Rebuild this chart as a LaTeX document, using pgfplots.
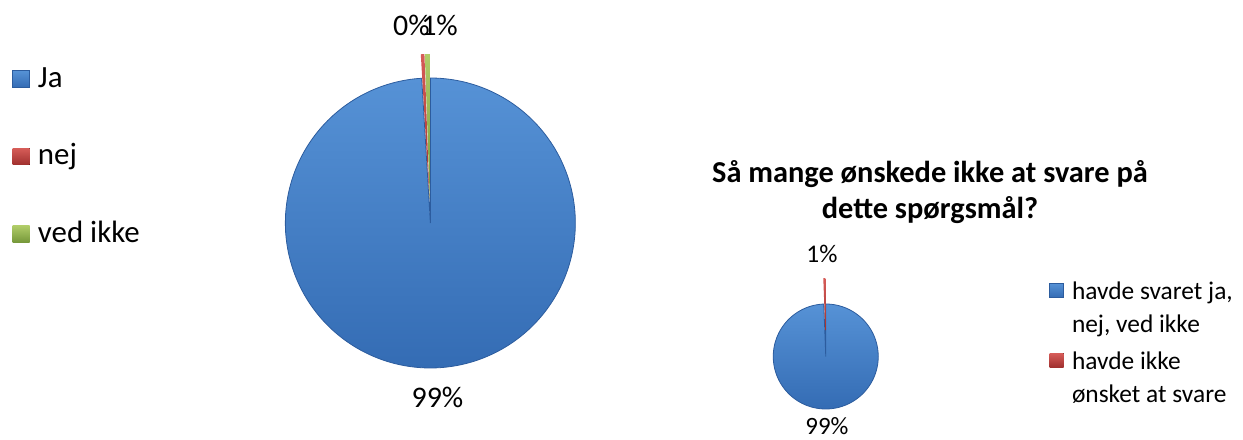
\documentclass[border=0pt]{standalone}
\usepackage{pgfplots}
\pgfplotsset{compat=1.18}
\usepackage{fontspec}
\setmainfont{Carlito}
\definecolor{bluetop}{RGB}{86,146,214}
\definecolor{bluebot}{RGB}{52,108,180}
\definecolor{blueedge}{RGB}{44,92,158}
\definecolor{redtop}{RGB}{214,92,88}
\definecolor{redbot}{RGB}{160,48,46}
\definecolor{greentop}{RGB}{176,204,104}
\definecolor{greenbot}{RGB}{118,152,58}

% ---- data (percent) ----
\def\ja{99.05}\def\nej{0.40}\def\vedikke{0.55}
\def\svaret{99.4}\def\ikkesvaret{0.6}

% ---- angles, pie 1 (start at 12 o'clock, clockwise) ----
\pgfmathsetmacro\pA{90-3.6*\ja}
\pgfmathsetmacro\pB{\pA-3.6*\nej}
\pgfmathsetmacro\pC{\pB-3.6*\vedikke}
\pgfmathsetmacro\mJa{(90+\pA)/2}
\pgfmathsetmacro\mNej{(\pA+\pB)/2}
\pgfmathsetmacro\mVed{(\pB+\pC)/2}
\pgfmathsetmacro\xJa{430+12*cos(\mJa)}\pgfmathsetmacro\yJa{229+12*sin(\mJa)}
\pgfmathsetmacro\xNej{430+12*cos(\mNej)}\pgfmathsetmacro\yNej{229+12*sin(\mNej)}
\pgfmathsetmacro\xVed{430+12*cos(\mVed)}\pgfmathsetmacro\yVed{229+12*sin(\mVed)}
% ---- angles, pie 2 ----
\pgfmathsetmacro\qA{90-3.6*\svaret}
\pgfmathsetmacro\qB{\qA-3.6*\ikkesvaret}
\pgfmathsetmacro\mSv{(90+\qA)/2}
\pgfmathsetmacro\mIk{(\qA+\qB)/2}
\pgfmathsetmacro\xSv{825.5+13*cos(\mSv)}\pgfmathsetmacro\ySv{96.5+13*sin(\mSv)}
\pgfmathsetmacro\xIk{825.5+13*cos(\mIk)}\pgfmathsetmacro\yIk{96.5+13*sin(\mIk)}

\pgfplotsset{
  base/.style={width=1243bp, height=440bp, scale only axis,
    xmin=0, xmax=1243, ymin=0, ymax=440, axis lines=none, clip=false,
    at={(0,0)}, anchor=south west},
  pieblue/.style={top color=bluetop, bottom color=bluebot, draw=blueedge, line width=0.8bp},
  piered/.style={top color=redtop, bottom color=redbot, draw=none},
  piegreen/.style={top color=greentop, bottom color=greenbot, draw=none},
}
\begin{document}
\begin{tikzpicture}
\path[use as bounding box] (0,0) rectangle (1243bp,440bp);
% ---------------- left pie ----------------
\begin{axis}[base,
  legend image code/.code={\fill[#1] (0bp,-8bp) rectangle (17bp,8.5bp);},
  legend style={at={(axis cs:12,375)}, anchor=north west, draw=none, fill=none,
    inner sep=0pt, row sep=49.5bp, legend cell align=left,
    font=\fontsize{31}{36}\selectfont,
    nodes={inner sep=0pt, text height=22bp, text depth=6bp},
    /tikz/every odd column/.append style={column sep=8bp}},
]
\addplot[pieblue, domain=\pA:90, samples=240, variable=\t]
  ({\xJa+145*cos(\t)},{\yJa+145*sin(\t)}) -- (axis cs:\xJa,\yJa) -- cycle;
\addlegendentry{Ja}
\addplot[piered, domain=\pB:\pA, samples=8, variable=\t]
  ({\xNej+145*cos(\t)},{\yNej+145*sin(\t)}) -- (axis cs:\xNej,\yNej) -- cycle;
\addlegendentry{nej}
\addplot[piegreen, domain=\pC:\pB, samples=8, variable=\t]
  ({\xVed+145*cos(\t)},{\yVed+145*sin(\t)}) -- (axis cs:\xVed,\yVed) -- cycle;
\addlegendentry{ved ikke}
\node[anchor=base west, inner sep=0pt, font=\fontsize{30}{36}\selectfont] at (axis cs:393,404) {0\%};
\node[anchor=base east, inner sep=0pt, font=\fontsize{30}{36}\selectfont] at (axis cs:458,404) {1\%};
\node[anchor=base, inner sep=0pt, font=\fontsize{30}{36}\selectfont] at (axis cs:437.5,33) {99\%};
\end{axis}
% ---------------- right pie ----------------
\begin{axis}[base,
  legend image code/.code={\fill[#1] (0bp,12bp) rectangle (14bp,26bp);},
  legend style={at={(axis cs:1049,161)}, anchor=north west, draw=none, fill=none,
    inner sep=0pt, row sep=10bp, legend cell align=left,
    font=\fontsize{25.5}{33}\selectfont,
    nodes={inner sep=0pt, text height=20bp, text depth=40bp},
    /tikz/every odd column/.append style={column sep=8bp}},
]
\addplot[pieblue, domain=\qA:90, samples=200, variable=\t]
  ({\xSv+52.5*cos(\t)},{\ySv+52.5*sin(\t)}) -- (axis cs:\xSv,\ySv) -- cycle;
\addlegendentry{\vtop{\baselineskip=33bp\hbox{havde svaret ja,}\hbox{nej, ved ikke}}}
\addplot[piered, domain=\qB:\qA, samples=8, variable=\t]
  ({\xIk+52.5*cos(\t)},{\yIk+52.5*sin(\t)}) -- (axis cs:\xIk,\yIk) -- cycle;
\addlegendentry{\vtop{\baselineskip=33bp\hbox{havde ikke}\hbox{ønsket at svare}}}
\node[anchor=base, inner sep=0pt, font=\fontsize{25.5}{30}\selectfont] at (axis cs:822,177) {1\%};
\node[anchor=base, inner sep=0pt, font=\fontsize{25}{30}\selectfont] at (axis cs:827,5) {99\%};
\node[anchor=base, inner sep=0pt, font=\bfseries\fontsize{30.5}{34}\selectfont] at (axis cs:930,257) {Så mange ønskede ikke at svare på};
\node[anchor=base, inner sep=0pt, font=\bfseries\fontsize{30.5}{34}\selectfont] at (axis cs:930,221) {dette spørgsmål?};
\end{axis}
\end{tikzpicture}
\end{document}
